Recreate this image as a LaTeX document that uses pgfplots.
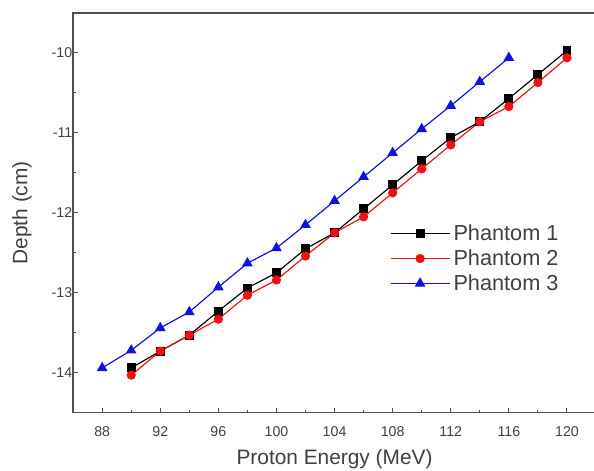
\documentclass[border=0pt]{standalone}
\usepackage{pgfplots}
\pgfplotsset{compat=1.18}
\usepackage{fontspec}
\setmainfont{Liberation Sans}
\definecolor{axisgray}{HTML}{505050}
\definecolor{txtgray}{HTML}{404040}
\definecolor{pred}{HTML}{F01010}
\definecolor{pblue}{HTML}{1010E0}
\begin{document}
\begin{tikzpicture}
\begin{axis}[
  scale only axis,
  width=313.2pt, height=239.4pt,
  xmin=86, xmax=122,
  ymin=-14.5, ymax=-9.5,
  xtick={88,92,...,120},
  ytick={-14,-13,...,-10},
  minor x tick num=1,
  minor y tick num=1,
  tick align=inside,
  xtick pos=bottom, ytick pos=left,
  major tick length=3pt, minor tick length=1.8pt,
  axis line style={axisgray, line width=0.9pt},
  every tick/.style={axisgray, line width=0.6pt},
  ticklabel style={font=\fontsize{8.5}{10}\selectfont, text=txtgray},
  xticklabel style={yshift=-4.5pt},
  yticklabel style={xshift=3pt},
  /pgf/number format/assume math mode=true,
  xlabel={Proton Energy (MeV)},
  ylabel={Depth (cm)},
  label style={font=\fontsize{12.5}{14}\selectfont, text=txtgray},
  xlabel style={at={(axis description cs:0.5,0)}, anchor=center, yshift=-27.6pt},
  ylabel style={at={(axis description cs:0,0.5)}, anchor=center, yshift=30.6pt},
  legend style={draw=none, fill=none, at={(axis cs:107.8,-12.1)}, anchor=north west,
    font=\fontsize{13}{15}\selectfont, text=txtgray, row sep=0pt,
    inner sep=0pt},
  legend cell align=left,
  legend image code/.code={%
    \draw[mark repeat=2, mark phase=2] plot coordinates {(0cm,0cm) (0.62cm,0cm) (1.24cm,0cm)};},
  every axis plot/.append style={line width=0.7pt},
]
\addplot[black, mark=square*, mark size=2.3pt] coordinates {
  (90,-13.94) (92,-13.73) (94,-13.53) (96,-13.23) (98,-12.94) (100,-12.75)
  (102,-12.45) (104,-12.25) (106,-11.95) (108,-11.65) (110,-11.35) (112,-11.06)
  (114,-10.86) (116,-10.57) (118,-10.27) (120,-9.97)
};
\addlegendentry{Phantom 1}
\addplot[pred, mark=*, mark size=2.4pt] coordinates {
  (90,-14.03) (92,-13.73) (94,-13.53) (96,-13.33) (98,-13.03) (100,-12.84)
  (102,-12.54) (104,-12.25) (106,-12.05) (108,-11.75) (110,-11.45) (112,-11.15)
  (114,-10.86) (116,-10.67) (118,-10.37) (120,-10.06)
};
\addlegendentry{Phantom 2}
\addplot[pblue, mark=triangle*, mark size=3pt] coordinates {
  (88,-13.94) (90,-13.72) (92,-13.44) (94,-13.24) (96,-12.93) (98,-12.63)
  (100,-12.44) (102,-12.15) (104,-11.85) (106,-11.55) (108,-11.25) (110,-10.95)
  (112,-10.66) (114,-10.36) (116,-10.06)
};
\addlegendentry{Phantom 3}
\end{axis}
\pgfresetboundingbox
\path[use as bounding box] (current axis.south west) ++(-43.8pt,-34.8pt) rectangle
  ([shift={(-1.2pt,7.8pt)}]current axis.north east);
\end{tikzpicture}
\end{document}
